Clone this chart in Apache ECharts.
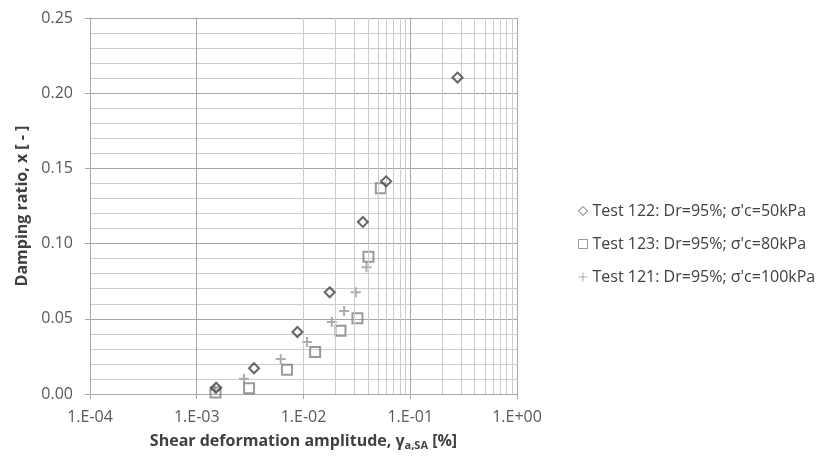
<!DOCTYPE html>
<html>
<head>
<meta charset="utf-8">
<script src="https://cdn.jsdelivr.net/npm/echarts@6/dist/echarts.min.js"></script>
<style>
  html, body { margin: 0; padding: 0; background: #fff; }
  #chart { width: 833px; height: 461px; }
</style>
</head>
<body>
<div id="chart"></div>
<script>
// Test 122: Dr=95%; σ'c=50kPa
const test122X = [0.00152, 0.00344, 0.00877, 0.0176, 0.0360, 0.0594, 0.277];
const test122Y = [0.0042, 0.0171, 0.0412, 0.0676, 0.1144, 0.1414, 0.2104];
// Test 123: Dr=95%; σ'c=80kPa
const test123X = [0.00150, 0.00309, 0.0070, 0.01285, 0.0222, 0.0320, 0.0406, 0.0530];
const test123Y = [0.0010, 0.0038, 0.0162, 0.0279, 0.0421, 0.0503, 0.0913, 0.1368];
// Test 121: Dr=95%; σ'c=100kPa
const test121X = [0.00147, 0.00277, 0.00612, 0.0108, 0.0184, 0.0240, 0.0309, 0.0389];
const test121Y = [0.0027, 0.0102, 0.0233, 0.0346, 0.0479, 0.0552, 0.0676, 0.0843];

const seriesNames = [
  "Test 122: Dr=95%; σ'c=50kPa",
  "Test 123: Dr=95%; σ'c=80kPa",
  "Test 121: Dr=95%; σ'c=100kPa"
];

// log-axis minor gridlines (2..9 within each decade)
const decades = [1e-4, 1e-3, 1e-2, 1e-1];
const minorSteps = [2, 3, 4, 5, 6, 7, 8, 9];
const xMinorGrid = [];
decades.forEach(d => minorSteps.forEach(m => xMinorGrid.push(d * m)));

const pairs = (xs, ys) => xs.map((x, i) => [x, ys[i]]);

const fmtExp = (v) => {
  const e = Math.round(Math.log10(v));
  const s = e < 0 ? '-' : '+';
  const a = Math.abs(e);
  return '1.E' + s + (a < 10 ? '0' + a : a);
};

const FONT = 'Open Sans';
const MAJOR = '#a6a6a6';
const MINOR = '#cccccc';
const chart = echarts.init(document.getElementById('chart'), null, { renderer: 'canvas' });

chart.setOption({
  backgroundColor: '#fff',
  animation: false,
  textStyle: { fontFamily: FONT },
  grid: { left: 90, right: 316, top: 18, bottom: 67, containLabel: false, outerBoundsMode: 'none' },
  xAxis: {
    type: 'log',
    logBase: 10,
    min: 1e-4,
    max: 1,
    name: '{b|Shear deformation amplitude, γ}{s|a,SA}{b| [%]}',
    nameLocation: 'middle',
    nameGap: 38,
    nameTextStyle: {
      rich: {
        b: { fontFamily: FONT, fontSize: 16, fontWeight: 'bold', color: '#404040' },
        s: { fontFamily: FONT, fontSize: 11, fontWeight: 'bold', color: '#404040', verticalAlign: 'bottom', padding: [8, 0, 0, 0] }
      }
    },
    axisLine: { show: true, lineStyle: { color: MAJOR, width: 1 } },
    axisTick: { show: true, inside: false, length: 5, lineStyle: { color: MAJOR } },
    axisLabel: { formatter: fmtExp, color: '#595959', fontSize: 16, margin: 15 },
    splitLine: { show: true, lineStyle: { color: MAJOR, width: 1 } }
  },
  yAxis: {
    type: 'value',
    min: 0,
    max: 0.25,
    interval: 0.05,
    name: 'Damping ratio, x [ - ]',
    nameLocation: 'middle',
    nameGap: 51,
    nameTextStyle: { fontFamily: FONT, fontSize: 16, fontWeight: 'bold', color: '#404040' },
    axisLine: { show: true, lineStyle: { color: MAJOR, width: 1 } },
    axisTick: { show: true, length: 5, lineStyle: { color: MAJOR } },
    axisLabel: { formatter: v => v.toFixed(2), color: '#595959', fontSize: 16, margin: 17 },
    splitLine: { show: true, lineStyle: { color: MAJOR, width: 1 } },
    minorTick: { show: false, splitNumber: 5 },
    minorSplitLine: { show: true, lineStyle: { color: MINOR, width: 1 } }
  },
  legend: {
    orient: 'vertical',
    left: 576,
    top: 203,
    padding: 0,
    itemGap: 17,
    itemWidth: 9,
    itemHeight: 9,
    itemStyle: { borderWidth: 1 },
    textStyle: { fontFamily: FONT, fontSize: 16, color: '#404040' },
    data: seriesNames
  },
  series: [
    {
      name: '_minor',
      type: 'scatter',
      data: [],
      silent: true,
      markLine: {
        silent: true,
        symbol: 'none',
        label: { show: false },
        lineStyle: { color: MINOR, width: 1, type: 'solid' },
        data: xMinorGrid.map(v => ({ xAxis: v }))
      },
      z: 1
    },
    {
      name: seriesNames[0],
      type: 'scatter',
      symbol: 'diamond',
      symbolSize: 10,
      itemStyle: { color: 'rgba(255,255,255,0)', borderColor: '#404040', borderWidth: 2 },
      data: pairs(test122X, test122Y),
      z: 5
    },
    {
      name: seriesNames[1],
      type: 'scatter',
      symbol: 'rect',
      symbolSize: 10,
      itemStyle: { color: 'rgba(255,255,255,0)', borderColor: '#808080', borderWidth: 2 },
      data: pairs(test123X, test123Y),
      z: 4
    },
    {
      name: seriesNames[2],
      type: 'scatter',
      symbol: 'path://M0,5H10M5,0V10',
      symbolSize: 10,
      itemStyle: { color: 'none', borderColor: '#999999', borderWidth: 2 },
      data: pairs(test121X, test121Y),
      z: 3
    }
  ]
});
</script>
</body>
</html>
